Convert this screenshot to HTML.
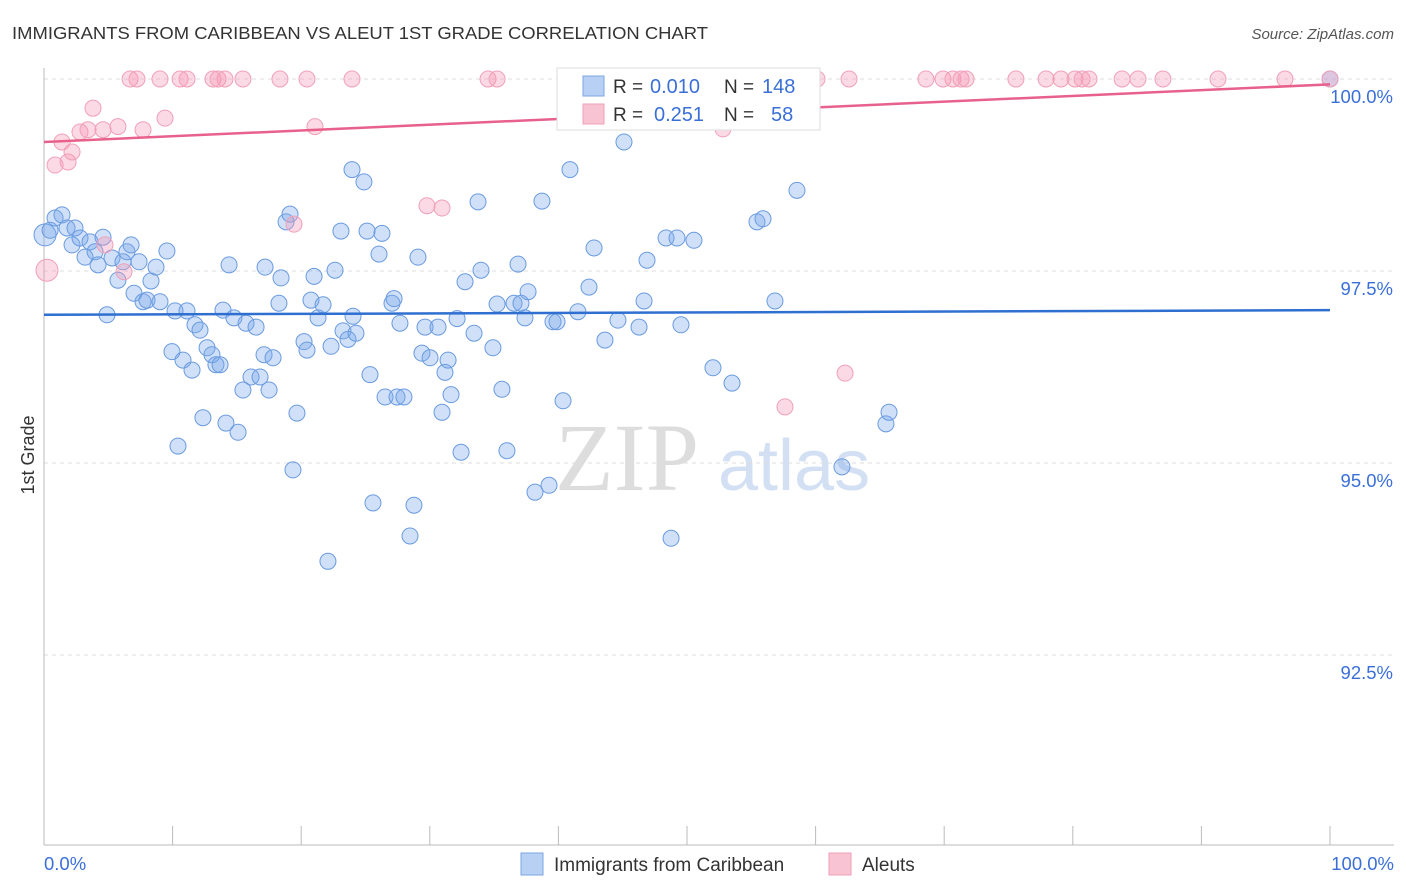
<!DOCTYPE html>
<html><head><meta charset="utf-8"><style>
body{margin:0;background:#fff;font-family:"Liberation Sans",sans-serif;}
svg{display:block}
</style></head><body>
<svg id="chart" width="1406" height="892">
<text x="12" y="39" font-size="17.5" fill="#333" textLength="696" lengthAdjust="spacingAndGlyphs">IMMIGRANTS FROM CARIBBEAN VS ALEUT 1ST GRADE CORRELATION CHART</text>
<text x="1394" y="39" font-size="15" fill="#555" font-style="italic" text-anchor="end">Source: ZipAtlas.com</text>
<text x="34" y="455" font-size="18" fill="#333" transform="rotate(-90 34 455)" text-anchor="middle">1st Grade</text>
<g><text x="555" y="490" font-size="96" fill="#ddd" font-family="Liberation Serif,serif">ZIP</text><text x="718" y="490" font-size="72" fill="#d3e0f3">atlas</text></g>
<g id="grid"></g><g id="axes"></g><g id="pts"></g><g id="lines"></g>
<g>
<rect x="557" y="68" width="263" height="62" fill="#fff" stroke="#ddd"/>
<rect x="583" y="76" width="21" height="20" fill="#b8d0f3" stroke="#7da6e4"/>
<rect x="583" y="104" width="21" height="20" fill="#f8c4d3" stroke="#f0a0b8"/>
<text x="613" y="93" font-size="19" fill="#333">R = </text><text x="650" y="93" font-size="20" fill="#3a6fd8">0.010</text>
<text x="724" y="93" font-size="19" fill="#333">N = </text><text x="762" y="93" font-size="20" fill="#3a6fd8">148</text>
<text x="613" y="121" font-size="19" fill="#333">R = </text><text x="654" y="121" font-size="20" fill="#3a6fd8">0.251</text>
<text x="724" y="121" font-size="19" fill="#333">N = </text><text x="771" y="121" font-size="20" fill="#3a6fd8">58</text>
</g>
<g>
<rect x="521" y="853" width="22" height="22" fill="#b8d0f3" stroke="#7da6e4"/>
<text x="554" y="871" font-size="19" fill="#333">Immigrants from Caribbean</text>
<rect x="829" y="853" width="22" height="22" fill="#f8c4d3" stroke="#f0a0b8"/>
<text x="862" y="871" font-size="19" fill="#333">Aleuts</text>
</g>
</svg>
<script>
const yTicks=[100,97.5,95,92.5];
const yTickLabels=["100.0%","97.5%","95.0%","92.5%"];
const blueX=[0.08,0.47,0.86,1.4,1.79,2.41,2.18,2.8,3.19,3.58,3.97,4.2,4.59,4.9,5.29,5.75,6.14,6.45,6.77,7.0,7.39,7.7,8.01,8.32,8.71,9.02,9.56,9.95,10.19,10.42,10.81,11.12,11.51,11.74,12.13,12.36,12.68,13.06,13.37,13.69,13.92,14.15,14.39,14.77,15.09,15.47,15.71,16.1,16.49,16.8,17.19,17.11,17.5,17.81,18.27,18.43,18.82,19.13,19.36,19.67,20.22,20.45,20.76,21.0,21.31,21.7,22.08,22.32,22.63,23.09,23.25,23.64,23.95,24.26,24.03,24.88,25.12,25.35,25.58,26.05,26.28,26.52,27.06,27.22,27.45,27.68,27.99,28.46,28.77,29.08,29.39,29.63,30.02,30.64,30.95,31.18,31.42,31.65,32.12,32.43,32.74,33.44,33.75,33.98,34.91,35.23,35.61,36.0,36.55,36.86,37.09,37.4,37.64,38.18,38.72,39.27,39.58,39.89,40.36,40.9,41.52,42.38,42.77,43.62,44.63,45.1,46.27,46.66,46.89,48.37,48.76,49.22,49.53,50.54,52.02,53.5,55.44,55.91,56.84,58.55,62.05,65.47,65.71,100,52.33];
const blueY=[97.97,98.03,98.19,98.23,98.06,98.06,97.84,97.93,97.68,97.88,97.75,97.58,97.94,96.93,97.67,97.38,97.62,97.75,97.84,97.21,97.62,97.1,97.12,97.37,97.55,97.1,97.76,96.45,96.98,95.22,96.34,96.98,96.21,96.8,96.73,95.59,96.5,96.41,96.28,96.28,96.99,95.52,97.58,96.89,95.4,95.95,96.82,96.12,96.77,96.12,97.55,96.41,95.95,96.37,97.08,97.41,98.14,98.24,94.91,95.65,96.58,96.47,97.12,97.43,96.89,97.06,93.72,96.52,97.51,98.02,96.72,96.61,98.82,96.69,96.91,98.66,98.02,96.15,94.48,97.72,97.99,95.86,97.08,97.14,95.86,96.82,95.86,94.05,94.45,97.68,96.43,96.77,96.37,96.77,95.66,96.18,96.34,95.89,96.88,95.14,97.36,96.69,98.4,97.51,96.5,97.07,95.96,95.16,97.08,97.59,97.08,96.89,97.23,94.62,98.41,94.71,96.84,96.84,95.81,98.82,96.97,97.29,97.8,96.6,96.86,99.18,96.77,97.11,97.64,97.93,94.02,97.93,96.8,97.9,96.24,96.04,98.14,98.18,97.11,98.55,94.95,95.51,95.66,100,100];
const pinkX=[0.23,0.86,1.4,1.87,2.18,2.8,3.42,3.81,4.59,4.74,5.75,6.22,6.69,7.23,7.7,9.02,9.41,10.58,11.12,13.14,13.53,14.07,15.47,18.35,20.45,21.07,19.44,23.95,29.78,30.95,34.53,35.23,47.82,52.8,55.68,57.62,60.11,62.29,62.6,68.58,69.91,70.68,71.31,71.7,75.58,77.92,79.08,80.17,80.72,81.26,83.83,85.07,87.01,91.29,96.5,100];
const pinkY=[97.51,98.88,99.18,98.92,99.05,99.31,99.34,99.62,99.34,97.84,99.38,97.49,100,100,99.34,100,99.49,100,100,100,100,100,100,100,100,99.38,98.11,100,98.35,98.32,100,100,100,99.35,100,95.73,100,96.17,100,100,100,100,100,100,100,100,100,100,100,100,100,100,100,100,100,100];
const blueTrend=[96.93,96.99];
const pinkTrend=[99.18,99.93];
const NS="http://www.w3.org/2000/svg";
const X0=44,X1=1330,Y100=79,PPY=76.8;
const sx=v=>X0+(X1-X0)*v/100;
const sy=v=>Y100+(100-v)*PPY;
function mk(p,t,a){const e=document.createElementNS(NS,t);for(const k in a)e.setAttribute(k,a[k]);document.getElementById(p).appendChild(e);return e;}
yTicks.forEach((t,i)=>{
 const g=mk('grid','line',{x1:X0,x2:1394,y1:sy(t),y2:sy(t),stroke:'#ddd','stroke-dasharray':'4,4'});
 
 
 const l=mk('grid','text',{x:1393,y:sy(t)+24,'font-size':18.5,fill:'#3a6fd8','text-anchor':'end'});
 l.textContent=yTickLabels[i];
 
 
});
mk('axes','line',{x1:X0,x2:X0,y1:68,y2:845,stroke:'#bbb'});
mk('axes','line',{x1:X0,x2:1394,y1:845,y2:845,stroke:'#bbb'});
for(let i=0;i<=10;i++){const t=mk('axes','line',{x1:sx(i*10),x2:sx(i*10),y1:826,y2:845,stroke:'#bbb'});
 
 }
const xl=mk('axes','text',{x:44,y:870,'font-size':18.5,fill:'#3a6fd8'});xl.textContent='0.0%';


const xr=mk('axes','text',{x:1394,y:870,'font-size':18.5,fill:'#3a6fd8','text-anchor':'end'});xr.textContent='100.0%';


blueX.forEach((v,i)=>{const c=mk('pts','circle',{cx:sx(v),cy:sy(blueY[i]),r:i==0?11:8,fill:'rgba(120,165,235,0.35)',stroke:'#6a9be0','stroke-width':1});
 
 });
pinkX.forEach((v,i)=>{const c=mk('pts','circle',{cx:sx(v),cy:sy(pinkY[i]),r:i==0?11:8,fill:'rgba(245,150,180,0.35)',stroke:'#f0a0b8','stroke-width':1});
 
 });
const bl=mk('lines','line',{x1:sx(0),x2:sx(100),y1:sy(blueTrend[0]),y2:sy(blueTrend[1]),stroke:'#2f6fd0','stroke-width':2.5});


const pl=mk('lines','line',{x1:sx(0),x2:sx(100),y1:sy(pinkTrend[0]),y2:sy(pinkTrend[1]),stroke:'#e8608c','stroke-width':2.5});


</script>
</body></html>
